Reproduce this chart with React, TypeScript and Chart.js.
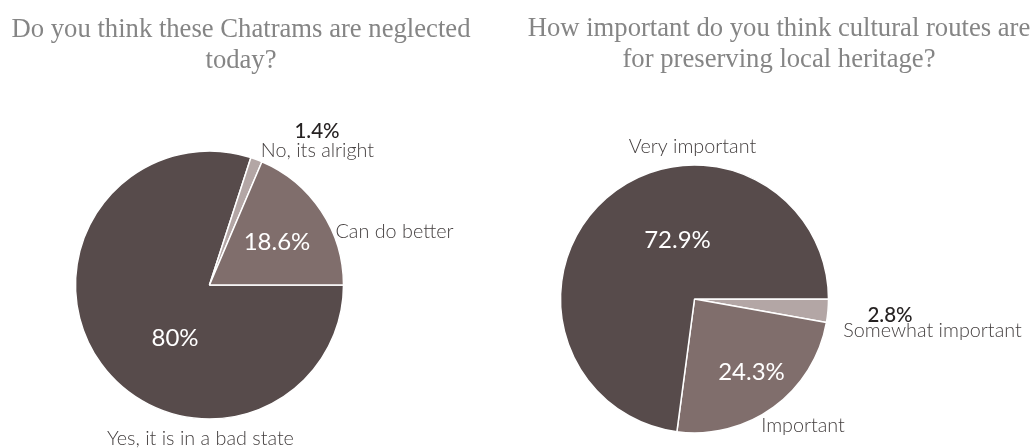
import React, { useEffect, useRef } from "react";
import { Chart, registerables } from "chart.js";

Chart.register(...registerables);

// ---- data ----
const Q1_TITLE = ["Do you think these Chatrams are neglected", "today?"];
const Q1_LABELS = ["Yes, it is in a bad state", "No, its alright", "Can do better"];
const Q1_VALUES = [80, 1.4, 18.6];
const Q1_PCT_TEXT = ["80%", "1.4%", "18.6%"];

const Q2_TITLE = ["How important do you think cultural routes are", "for preserving local heritage?"];
const Q2_LABELS = ["Somewhat important", "Important", "Very important"];
const Q2_VALUES = [2.8, 24.3, 72.9];
const Q2_PCT_TEXT = ["2.8%", "24.3%", "72.9%"];

// ---- styles ----
const DARK = "#574b4b";
const MID = "#806e6c";
const LIGHT = "#b3a6a5";
const Q1_COLORS = [DARK, LIGHT, MID];
const Q2_COLORS = [LIGHT, MID, DARK];

const LABEL_FONT = "Lato, 'Noto Sans', sans-serif";
const TITLE_FONT = "'Liberation Serif', 'Times New Roman', serif";

// label placement relative to the arc centre (px at radius 134): [pctDx, pctDy, pctInside, nameDx, nameDy]
const Q1_LAYOUT: [number, number, boolean, number, number][] = [
  [-34.5, 61, true, -9, 160],
  [107.5, -147, false, 108, -128],
  [67.5, -35, true, 185, -47],
];
const Q2_LAYOUT: [number, number, boolean, number, number][] = [
  [195.5, 23, false, 238, 38],
  [57, 81, true, 108.5, 133],
  [-17, -51, true, -2, -146],
];

type PieSpec = {
  title: string[];
  titleX: number;
  titleBaselines: number[];
  labels: string[];
  values: number[];
  pctText: string[];
  colors: string[];
  layout: [number, number, boolean, number, number][];
  padding: { left: number; right: number; top: number; bottom: number };
};

const W = 517;
const H = 448;

const PIES: PieSpec[] = [
  {
    title: Q1_TITLE,
    titleX: 241,
    titleBaselines: [37, 68],
    labels: Q1_LABELS,
    values: Q1_VALUES,
    pctText: Q1_PCT_TEXT,
    colors: Q1_COLORS,
    layout: Q1_LAYOUT,
    padding: { left: 0, right: 98, top: 122, bottom: 0 },
  },
  {
    title: Q2_TITLE,
    titleX: 262,
    titleBaselines: [36, 67],
    labels: Q2_LABELS,
    values: Q2_VALUES,
    pctText: Q2_PCT_TEXT,
    colors: Q2_COLORS,
    layout: Q2_LAYOUT,
    padding: { left: 0, right: 162, top: 150, bottom: 0 },
  },
];

function PieChart({ spec, left }: { spec: PieSpec; left: number }) {
  const ref = useRef<HTMLCanvasElement | null>(null);
  useEffect(() => {
    if (!ref.current) return;
    const labelPlugin = {
      id: "pieLabels",
      afterDatasetsDraw(chart: any) {
        const ctx: CanvasRenderingContext2D = chart.ctx;
        const meta = chart.getDatasetMeta(0);
        ctx.save();
        ctx.textAlign = "center";
        ctx.textBaseline = "alphabetic";
        meta.data.forEach((arc: any, i: number) => {
          const k = arc.outerRadius / 134;
          const [pdx, pdy, inside, ndx, ndy] = spec.layout[i];
          if (inside) {
            ctx.font = `400 24px ${LABEL_FONT}`;
            ctx.fillStyle = "#ffffff";
          } else {
            ctx.font = `500 20.5px ${LABEL_FONT}`;
            ctx.fillStyle = "#262222";
          }
          ctx.fillText(spec.pctText[i], arc.x + pdx * k, arc.y + pdy * k);
          ctx.font = `300 19.8px ${LABEL_FONT}`;
          ctx.fillStyle = "#454040";
          ctx.fillText(spec.labels[i], arc.x + ndx * k, arc.y + ndy * k);
        });
        ctx.restore();
      },
      afterDraw(chart: any) {
        const ctx: CanvasRenderingContext2D = chart.ctx;
        ctx.save();
        ctx.textAlign = "center";
        ctx.textBaseline = "alphabetic";
        ctx.font = `26.67px ${TITLE_FONT}`;
        ctx.fillStyle = "#858585";
        spec.title.forEach((line, i) => {
          ctx.fillText(line, spec.titleX, spec.titleBaselines[i]);
        });
        ctx.restore();
      },
    };
    const chart = new Chart(ref.current, {
      type: "pie",
      data: {
        labels: spec.labels,
        datasets: [
          {
            data: spec.values,
            backgroundColor: spec.colors,
            borderColor: "#ffffff",
            borderWidth: 1.5,
            radius: 134,
          } as any,
        ],
      },
      options: {
        animation: false,
        responsive: false,
        rotation: 90,
        layout: { padding: spec.padding },
        plugins: {
          legend: { display: false },
          tooltip: { enabled: false },
          title: { display: false },
        },
      },
      plugins: [labelPlugin],
    });
    return () => chart.destroy();
  }, [spec]);
  return (
    <canvas
      ref={ref}
      width={W}
      height={H}
      style={{ position: "absolute", left, top: 0, width: W, height: H }}
    />
  );
}

export default function App() {
  return (
    <div
      style={{
        position: "absolute",
        left: 0,
        top: 0,
        width: 1034,
        height: 448,
        background: "#ffffff",
        overflow: "hidden",
      }}
    >
      <PieChart spec={PIES[0]} left={0} />
      <PieChart spec={PIES[1]} left={W} />
    </div>
  );
}
